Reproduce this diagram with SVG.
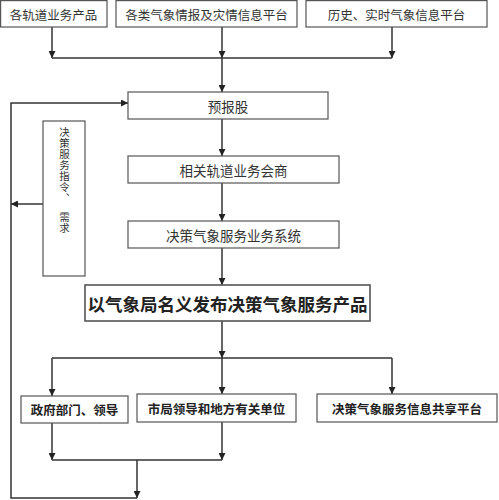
<svg xmlns="http://www.w3.org/2000/svg" width="499" height="500" viewBox="0 0 499 500">
<defs>
<marker id="ah" viewBox="0 0 8 8" refX="8" refY="4" markerWidth="7" markerHeight="7" markerUnits="userSpaceOnUse" orient="auto">
<path d="M0,0 L8,4 L0,8 z" fill="#222"/>
</marker>
<style>
.box{fill:#fff;stroke:#555;stroke-width:1.2}
.t{font-family:"Noto Sans CJK SC","Liberation Serif",serif;fill:#333;text-anchor:middle;dominant-baseline:central}
.s{font-size:12.5px}
.m{font-size:13.5px}
.v{font-family:"Noto Sans CJK SC","Liberation Serif",serif;fill:#333;font-size:10.5px;letter-spacing:0.5px;writing-mode:vertical-rl;text-anchor:start}
.b{font-family:"Noto Sans CJK SC","Liberation Sans",sans-serif;font-weight:bold;fill:#222;text-anchor:middle;dominant-baseline:central}
.ln{fill:none;stroke:#333;stroke-width:1.5}
.ar{fill:none;stroke:#333;stroke-width:1.5;marker-end:url(#ah)}
</style>
</defs>
<rect width="499" height="500" fill="#fff"/>
<g id="connectors">
<path class="ar" d="M52,27 V58"/>
<path class="ar" d="M222,27 V58"/>
<path class="ar" d="M392,27 V58"/>
<path class="ln" d="M52,58 H392"/>
<path class="ar" d="M222,58 V92"/>
<path class="ar" d="M222,119 V156"/>
<path class="ar" d="M222,183 V221"/>
<path class="ar" d="M222,248 V285"/>
<path class="ar" d="M222,321 V358"/>
<path class="ln" d="M52,358 H392"/>
<path class="ar" d="M52,358 V396"/>
<path class="ar" d="M222,358 V394"/>
<path class="ar" d="M392,358 V394"/>
<path class="ar" d="M52,423 V460"/>
<path class="ar" d="M222,422 V460"/>
<path class="ln" d="M52,460 H222"/>
<path class="ar" d="M137,460 V498"/>
<path class="ar" d="M137,498 H11 V103 H128"/>
<path class="ar" d="M43,204 H11"/>
</g>
<g id="n1"><rect class="box" x="0.6" y="0.6" width="106.4" height="26.4"/><text class="t s" x="53.5" y="14">各轨道业务产品</text></g>
<g id="n2"><rect class="box" x="116" y="0.6" width="181" height="26.4"/><text class="t s" x="206.5" y="14">各类气象情报及灾情信息平台</text></g>
<g id="n3"><rect class="box" x="306" y="0.6" width="181" height="26.4"/><text class="t s" x="396.5" y="14">历史、实时气象信息平台</text></g>
<g id="n4"><rect class="box" x="128" y="92" width="200" height="27"/><text class="t m" x="228" y="105.5">预报股</text></g>
<g id="n5"><rect class="box" x="128" y="156" width="211" height="27"/><text class="t m" x="233.5" y="169.5">相关轨道业务会商</text></g>
<g id="n6"><rect class="box" x="128" y="221" width="211" height="27"/><text class="t m" x="233.5" y="234.5">决策气象服务业务系统</text></g>
<g id="n7"><rect class="box" x="85" y="285" width="285" height="36" style="stroke-width:1.6"/><text class="b" x="227.5" y="303" style="font-size:17.5px">以气象局名义发布决策气象服务产品</text></g>
<g id="n8"><rect class="box" x="43" y="121" width="42" height="155"/>
<text class="v" x="64.5" y="126.5">决策服务指令、<tspan dy="8">需求</tspan></text></g>
<g id="n9"><rect class="box" x="21" y="396" width="107" height="27"/><text class="b" x="74.5" y="409.5" style="font-size:12.5px">政府部门、领导</text></g>
<g id="n10"><rect class="box" x="137" y="394" width="159" height="28"/><text class="b" x="216.5" y="408" style="font-size:12.5px">市局领导和地方有关单位</text></g>
<g id="n11"><rect class="box" x="317" y="394" width="180" height="28"/><text class="b" x="407" y="408" style="font-size:12.5px">决策气象服务信息共享平台</text></g>
</svg>
